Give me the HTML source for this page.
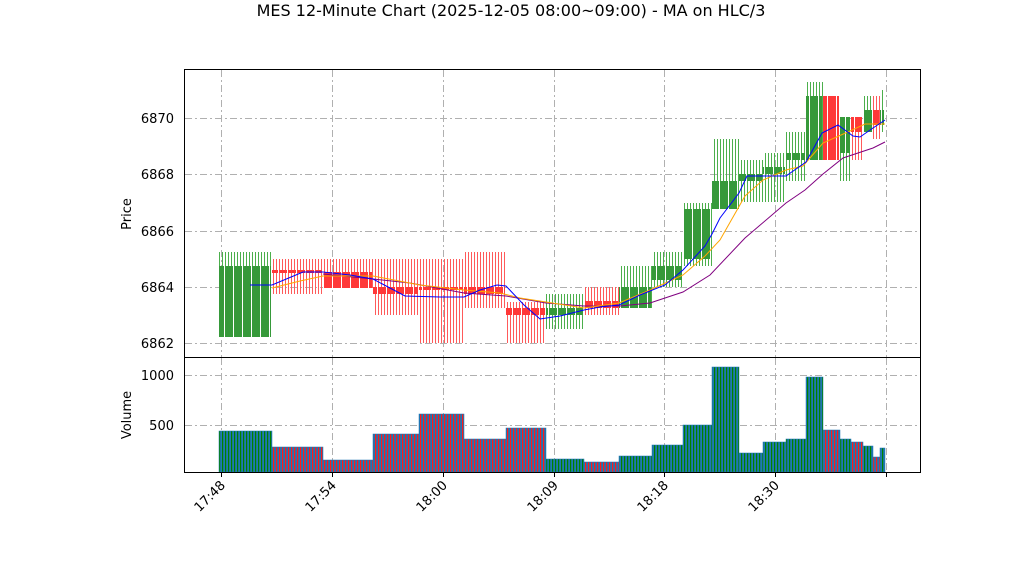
<!DOCTYPE html>
<html><head><meta charset="utf-8"><style>
html,body{margin:0;padding:0;background:#fff}
svg{display:block;font-family:"DejaVu Sans","Liberation Sans",sans-serif}
</style></head><body>
<svg id="s" width="1022" height="575" viewBox="0 0 1022 575" xmlns="http://www.w3.org/2000/svg">
<defs>
<pattern id="wg" width="3" height="10" patternUnits="userSpaceOnUse"><rect x="0" y="0" width="1" height="10" fill="#4caf4c"/></pattern>
<pattern id="wr" width="3" height="10" patternUnits="userSpaceOnUse"><rect x="0" y="0" width="1" height="10" fill="#ff5a5a"/></pattern>
<pattern id="bg" width="9" height="10" patternUnits="userSpaceOnUse"><rect width="9" height="10" fill="#36993a"/><rect x="8" width="1" height="10" fill="#fff"/></pattern>
<pattern id="br" width="9" height="10" patternUnits="userSpaceOnUse"><rect width="9" height="10" fill="#ff3838"/><rect x="8" width="1" height="10" fill="#fff"/></pattern>
<pattern id="vg" width="3" height="10" patternUnits="userSpaceOnUse"><rect width="3" height="10" fill="#1f77b4"/><rect width="1.2" height="10" fill="#008000"/></pattern>
<pattern id="vr" width="3" height="10" patternUnits="userSpaceOnUse"><rect width="3" height="10" fill="#1f77b4"/><rect width="1.2" height="10" fill="#ff1a1a"/></pattern>
</defs>
<rect width="1022" height="575" fill="#fff"/>
<text x="511" y="16" font-size="16" text-anchor="middle">MES 12-Minute Chart (2025-12-05 08:00~09:00) - MA on HLC/3</text>
<g id="grid" stroke="#b0b0b0" stroke-width="1" stroke-dasharray="7,3,2,3"></g>
<g id="cand"></g>
<g id="vol"></g>
<polyline fill="none" stroke="#800080" stroke-width="1" points="323,274 373,279 410,283 464,293 506,296 546,303 584,306 620,306 650,303 683,292 710,275 745,238 786,203 805,190 823,174 843,158 873,148 885,142"/>
<polyline fill="none" stroke="#ffa500" stroke-width="1" points="272,288 300,281 323,276 373,276 420,285 464,290 500,293 520,298 546,302 584,308 619,303 650,290 683,275 705,256 720,240 745,196 763,180 786,170 803,166 823,143 850,131 865,124 885,124"/>
<polyline fill="none" stroke="#0000ff" stroke-width="1" points="250,285 272,285 303,272 323,272 350,275 373,279 405,296 440,297 464,297 480,290 497,285 506,286 524,305 540,319 560,316 584,310 600,307 619,305 640,295 665,285 683,270 705,246 712,234 720,218 739,193 747,176 763,176 786,176 806,162 822,133 838,125 853,136 860,137 873,128 885,120"/>
<rect x="184.5" y="69.5" width="736" height="288" fill="none" stroke="#000"/>
<rect x="184.5" y="357.5" width="736" height="115" fill="none" stroke="#000"/>
<g font-size="13" text-anchor="end">
<text x="174" y="123">6870</text><text x="174" y="179">6868</text><text x="174" y="236">6866</text><text x="174" y="292">6864</text><text x="174" y="348">6862</text>
<text x="174" y="380">1000</text><text x="174" y="430">500</text>
</g>
<text transform="translate(131,214) rotate(-90)" font-size="13" text-anchor="middle">Price</text>
<text transform="translate(131,415) rotate(-90)" font-size="13" text-anchor="middle">Volume</text>
<g id="xt" font-size="13"></g>
</svg>
<script>
var NS="http://www.w3.org/2000/svg";
function el(p,t,a){var e=document.createElementNS(NS,t);for(var k in a)e.setAttribute(k,a[k]);p.appendChild(e);return e;}
var g=document.getElementById('grid');
var xs=[221,332,443,554,664,775,886];
xs.forEach(function(x){el(g,'line',{x1:x+.5,x2:x+.5,y1:70,y2:357});el(g,'line',{x1:x+.5,x2:x+.5,y1:358,y2:472});});
[118,174,231,287,343].forEach(function(y){el(g,'line',{x1:185,x2:920,y1:y+.5,y2:y+.5});});
[375,425].forEach(function(y){el(g,'line',{x1:185,x2:920,y1:y+.5,y2:y+.5});});
var xt=document.getElementById('xt');
var lab=['17:48','17:54','18:00','18:09','18:18','18:30'];
xs.forEach(function(x,i){el(xt,'line',{x1:x+.5,x2:x+.5,y1:472,y2:477,stroke:'#000'});
 if(lab[i]){var t=el(xt,'text',{transform:'translate('+(x+5)+',486) rotate(-45)','text-anchor':'end'});t.textContent=lab[i];}});
var C=[[219,272,'g',266,337,252,337,440],[272,323,'r',270,273,259,294,280],[323,373,'r',272,288,259,288,150],
[373,419,'r',287,294,259,315,410],[419,464,'r',287,290,259,343,610],[464,506,'r',287,294,252,308,360],
[506,546,'r',308,315,302,343,470],[546,584,'g',308,315,294,329,160],[584,619,'r',301,308,287,315,130],
[619,652,'g',287,308,266,308,190],[652,683,'g',266,280,252,287,300],[683,712,'g',209,259,203,266,500],
[712,739,'g',181,209,139,209,1080],[739,763,'g',174,181,160,202,220],[763,786,'g',167,174,153,202,330],
[786,806,'g',153,160,132,181,360],[806,823,'g',96,160,82,160,980],[823,840,'r',96,160,96,160,450],
[840,851,'g',117,153,117,181,360],[851,863,'r',117,132,117,160,330],[863,873,'g',110,132,96,132,290],
[873,880,'r',110,125,96,139,180],[880,885,'g',110,125,90,132,270]];
var cg=document.getElementById('cand'),vg=document.getElementById('vol');
C.forEach(function(c){
 el(cg,'rect',{x:c[0],y:c[5],width:c[1]-c[0],height:c[6]-c[5],fill:'url(#w'+c[2]+')'});
 el(cg,'rect',{x:c[0],y:c[3],width:c[1]-c[0]-1,height:Math.max(2,c[4]-c[3]),fill:'url(#b'+c[2]+')'});
 var y=475-c[7]*0.1;
 el(vg,'rect',{x:c[0],y:y,width:c[1]-c[0],height:472-y,fill:'url(#v'+c[2]+')',stroke:'#1f77b4','stroke-width':0.5});
});
</script>
</body></html>
